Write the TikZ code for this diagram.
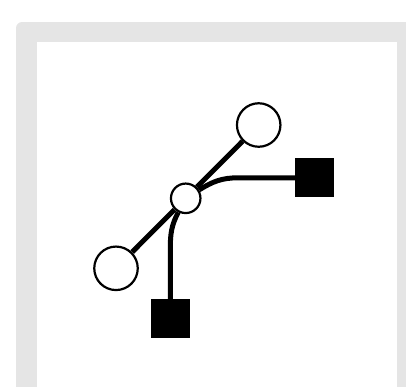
\documentclass[tikz,border=0pt]{standalone}
\usepackage{tikz}
\usetikzlibrary{positioning}

\begin{document}
\begin{tikzpicture}[
    x=1pt, y=1pt,
    ring/.style={
      circle,
      draw,
      line width=2.2pt,
      fill=white,
      inner sep=0pt,
      minimum size=43.5pt
    },
    hubring/.style={
      ring,
      minimum size=29.5pt
    },
    pad/.style={
      rectangle,
      fill=black,
      inner sep=0pt,
      minimum size=39pt
    }
  ]
    \useasboundingbox (0,0) rectangle (406,-386);
    % frame
    \fill[black!10, rounded corners=6pt] (16,-22) rectangle (430,-410);
    \fill[white] (37,-42) rectangle (397,-410);

    \node[hubring] (hub)  at (185.7,-198.3) {};
    \node[ring]    (top)  at (258.7,-125)   {};
    \node[ring]    (low)  at (116,-268.3)   {};
    \node[pad]     (rsq)  at (314.5,-177.8) {};
    \node[pad]     (bsq)  at (170.3,-318.7) {};
    \coordinate (rbend) at (238,-177.8);
    \coordinate (bbend) at (170.3,-248);

    \begin{scope}[line width=5pt]
      \draw (hub) -- (top);
      \draw (hub) -- (low);
      \draw (hub) to[out=32, in=180] (rbend) -- (rsq);
      \draw (hub) to[out=-118, in=90] (bbend) -- (bsq);
    \end{scope}
  \end{tikzpicture}
\end{document}
